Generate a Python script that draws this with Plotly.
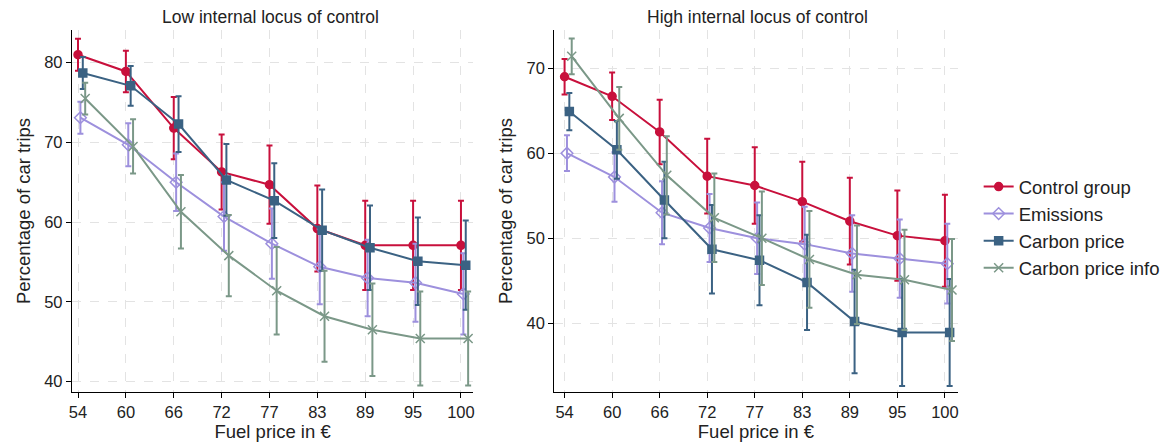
import plotly.graph_objects as go

prices = ["54", "60", "66", "72", "77", "83", "89", "95", "100"]
series_names = ["Control group", "Emissions", "Carbon price", "Carbon price info"]

# Low internal locus of control
low_ctrl = [81.0, 78.9, 71.8, 66.3, 64.7, 59.2, 57.1, 57.1, 57.1]
low_ctrl_err = [2.0, 2.6, 3.9, 4.7, 4.9, 5.4, 5.6, 5.6, 5.6]
low_emis = [73.1, 69.7, 65.0, 60.7, 57.3, 54.4, 53.0, 52.4, 51.0]
low_emis_err = [2.0, 2.7, 3.6, 4.3, 4.4, 4.7, 4.8, 4.9, 5.1]
low_cp = [78.7, 77.1, 72.3, 65.3, 62.7, 59.0, 56.8, 55.1, 54.6]
low_cp_err = [2.0, 2.5, 3.5, 4.5, 4.7, 5.1, 5.3, 5.5, 5.6]
low_cpi = [75.5, 69.5, 61.3, 55.8, 51.4, 48.2, 46.5, 45.4, 45.4]
low_cpi_err = [2.0, 3.4, 4.6, 5.1, 5.5, 5.7, 5.8, 5.9, 5.9]

# High internal locus of control
high_ctrl = [69.0, 66.7, 62.5, 57.3, 56.2, 54.3, 52.0, 50.3, 49.7]
high_ctrl_err = [2.1, 2.8, 3.8, 4.4, 4.5, 4.7, 5.1, 5.3, 5.4]
high_emis = [60.0, 57.2, 53.0, 51.2, 50.0, 49.3, 48.2, 47.6, 47.0]
high_emis_err = [2.1, 2.9, 3.7, 4.0, 4.2, 4.4, 4.5, 4.6, 4.7]
high_cp = [64.9, 60.4, 54.5, 48.7, 47.4, 44.8, 40.2, 38.9, 38.9]
high_cp_err = [2.2, 3.4, 4.5, 5.2, 5.3, 5.6, 6.1, 6.3, 6.3]
high_cpi = [71.4, 64.1, 57.4, 52.4, 50.0, 47.5, 45.7, 45.1, 43.9]
high_cpi_err = [2.1, 3.7, 4.6, 5.2, 5.5, 5.7, 5.8, 5.9, 6.0]

colors = ["#c8103c", "#9d90dd", "#3b6283", "#7b9888"]
offsets = [0.0, 0.05, 0.10, 0.15]

# page has an 8px body margin in the browser
PAD = 8
W, H = 1171 - PAD, 444 - PAD
def fx(px):
    return (px - PAD) / W
def fy(py):
    return 1 - (py - PAD) / H

fig = go.Figure()

panels = [
    (low_ctrl, low_ctrl_err, low_emis, low_emis_err, low_cp, low_cp_err, low_cpi, low_cpi_err),
    (high_ctrl, high_ctrl_err, high_emis, high_emis_err, high_cp, high_cp_err, high_cpi, high_cpi_err),
]
markers = [
    dict(symbol="circle", size=8),
    dict(symbol="diamond-open", size=9),
    dict(symbol="square", size=8),
    dict(symbol="x-thin-open", size=9),
]
for p, data in enumerate(panels):
    xa = "x" if p == 0 else "x2"
    ya = "y" if p == 0 else "y2"
    for s in range(4):
        vals = data[2 * s]
        errs = data[2 * s + 1]
        xs = [i + offsets[s] for i in range(len(prices))]
        marker = dict(markers[s], color=colors[s],
                      line=dict(color=colors[s], width=1.5))
        fig.add_trace(go.Scatter(
            x=xs, y=vals, mode="lines+markers", name=series_names[s],
            xaxis=xa, yaxis=ya, showlegend=(p == 0),
            line=dict(color=colors[s], width=2),
            marker=marker,
            error_y=dict(type="data", array=errs, visible=True,
                         color=colors[s], thickness=2, width=3),
        ))

axis_common = dict(
    showline=True, linecolor="black", linewidth=1,
    ticks="outside", ticklen=5, tickcolor="black",
    showgrid=True, gridcolor="#e3e3e3", griddash="dash", gridwidth=1,
    zeroline=False, tickfont=dict(size=16.5, color="#222"),
    mirror=False,
)

fig.update_layout(
    width=W, height=H,
    margin=dict(l=0, r=0, t=0, b=0),
    paper_bgcolor="white", plot_bgcolor="white",
    font=dict(family="Liberation Sans, Arial, sans-serif", color="#222"),
    xaxis=dict(domain=[fx(69), fx(472)], range=[-0.13, 8.26],
               tickmode="array", tickvals=list(range(9)), ticktext=prices,
               title=dict(text="Fuel price in €", font=dict(size=18.5), standoff=3),
               anchor="y", **axis_common),
    yaxis=dict(domain=[fy(392), fy(30)], range=[38.7, 84.1],
               tickvals=[40, 50, 60, 70, 80],
               title=dict(text="Percentage of car trips", font=dict(size=18.5), standoff=8),
               anchor="x", **axis_common),
    xaxis2=dict(domain=[fx(553), fx(958)], range=[-0.22, 8.27],
                tickmode="array", tickvals=list(range(9)), ticktext=prices,
                title=dict(text="Fuel price in €", font=dict(size=18.5), standoff=3),
                anchor="y2", **axis_common),
    yaxis2=dict(domain=[fy(392), fy(30)], range=[31.9, 74.5],
                tickvals=[40, 50, 60, 70],
                title=dict(text="Percentage of car trips", font=dict(size=18.5), standoff=8),
                anchor="x2", **axis_common),
    legend=dict(x=fx(979), y=fy(168), xanchor="left", yanchor="top",
                font=dict(size=18.5, color="#222"), bgcolor="rgba(0,0,0,0)",
                itemwidth=30, tracegroupgap=0),
    annotations=[
        dict(text="Low internal locus of control", x=fx(268), y=fy(17),
             xref="paper", yref="paper", showarrow=False,
             font=dict(size=17.5, color="#222"), xanchor="center", yanchor="middle"),
        dict(text="High internal locus of control", x=fx(757), y=fy(17),
             xref="paper", yref="paper", showarrow=False,
             font=dict(size=17.5, color="#222"), xanchor="center", yanchor="middle"),
    ],
)

fig.write_html("out.html")
